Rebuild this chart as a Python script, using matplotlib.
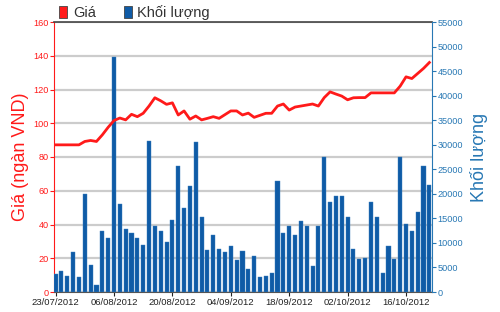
import matplotlib
matplotlib.use('Agg')
import matplotlib.pyplot as plt
from matplotlib.patches import Patch

plt.rcParams['font.family'] = ['Liberation Sans', 'DejaVu Sans']

# 65 sessions, 23/07/2012 -> 23/10/2012
price = [87.2, 87.2, 87.2, 87.2, 87.2, 89.2, 89.8, 89.2, 93.1, 97.6,
         101.6, 103.1, 102.0, 105.3, 103.9, 105.9, 110.2, 115.1, 113.3, 111.2,
         112.1, 104.9, 107.3, 102.4, 104.3, 102.0, 102.9, 103.9, 102.9, 105.1,
         107.3, 107.3, 104.9, 106.0, 103.5, 104.7, 105.9, 105.9, 110.2, 111.4,
         107.8, 109.6, 110.2, 110.8, 111.4, 110.2, 115.2, 118.6, 117.3, 116.1,
         113.9, 115.1, 115.2, 115.2, 118.0, 118.0, 118.0, 118.0, 118.0, 122.0,
         127.5, 126.5, 129.5, 132.5, 136.0]
volume = [3600, 4200, 3350, 8250, 3000, 19950, 5500, 1370, 12400, 10900,
          47800, 17900, 12800, 11980, 11100, 9530, 30700, 13470, 12400, 10200,
          14630, 25650, 17020, 21630, 30500, 15180, 8510, 11510, 8860, 8160,
          9270, 6470, 8370, 4630, 7290, 3100, 3350, 3960, 22700, 11920,
          13410, 11700, 14370, 13410, 5250, 13410, 27550, 18300, 19590, 19590,
          15180, 8780, 6820, 7020, 18300, 15180, 3960, 9270, 6740, 27550,
          13760, 12390, 16330, 25650, 21840]
tick_pos = [0, 10, 20, 30, 40, 50, 60]
tick_labels = ['23/07/2012', '06/08/2012', '20/08/2012', '04/09/2012',
               '18/09/2012', '02/10/2012', '16/10/2012']

red = '#ff1a1a'
blue = '#2878b4'
bar_color = '#0f5ba6'

fig = plt.figure(figsize=(5, 3.12), dpi=100)
ax = fig.add_axes([54/500, 20/312, 378/500, 270/312])
x = list(range(len(price)))

# price axis (left) with grid
ax.set_ylim(0, 160)
ax.set_yticks(range(0, 161, 20))
ax.set_xlim(-0.27, 64.45)
ax.grid(axis='y', color='#cccccc', linewidth=1.6)
ax.tick_params(axis='y', colors=red, labelsize=6.6, length=3, width=0.8, pad=1)
ax.set_ylabel('Giá (ngàn VND)', color=red, fontsize=13, labelpad=3)
ax.set_xticks(tick_pos)
ax.set_xticklabels(tick_labels)
ax.tick_params(axis='x', colors='#222222', labelsize=6.8, length=3, width=0.8, pad=1)
ax.spines['left'].set_color(red)
ax.spines['right'].set_visible(False)
ax.spines['top'].set_color('#444444')
ax.spines['top'].set_linewidth(1.2)
ax.spines['bottom'].set_color('#555555')
ax.spines['bottom'].set_linewidth(0.8)

# volume axis (right)
ax2 = ax.twinx()
ax2.bar(x, volume, width=0.7, color=bar_color, edgecolor='#3a7fc0', linewidth=0.3)
ax2.set_ylim(0, 55000)
ax2.set_yticks(range(0, 55001, 5000))
ax2.tick_params(axis='y', colors=blue, labelsize=6.6, length=3, width=0.8, pad=1)
ax2.set_ylabel('Khối lượng', color=blue, fontsize=13, labelpad=5)
for s in ['left', 'top', 'bottom']:
    ax2.spines[s].set_visible(False)
ax2.spines['right'].set_color(blue)

# price line on top of bars
ax3 = ax.twinx()
ax3.plot(x, price, color=red, linewidth=2)
ax3.set_ylim(0, 160)
ax3.axis('off')

handles = [Patch(facecolor=red, edgecolor='#444444', linewidth=0.6),
           Patch(facecolor=bar_color, edgecolor='#444444', linewidth=0.6)]
fig.legend(handles, ['Giá', 'Khối lượng'], loc='upper left',
           bbox_to_anchor=(46/500, 1.025), ncol=2, frameon=False, fontsize=10.5,
           handlelength=0.55, handleheight=0.85, handletextpad=0.4,
           columnspacing=1.9, labelcolor='#333333')

fig.savefig('out.png', dpi=100)
